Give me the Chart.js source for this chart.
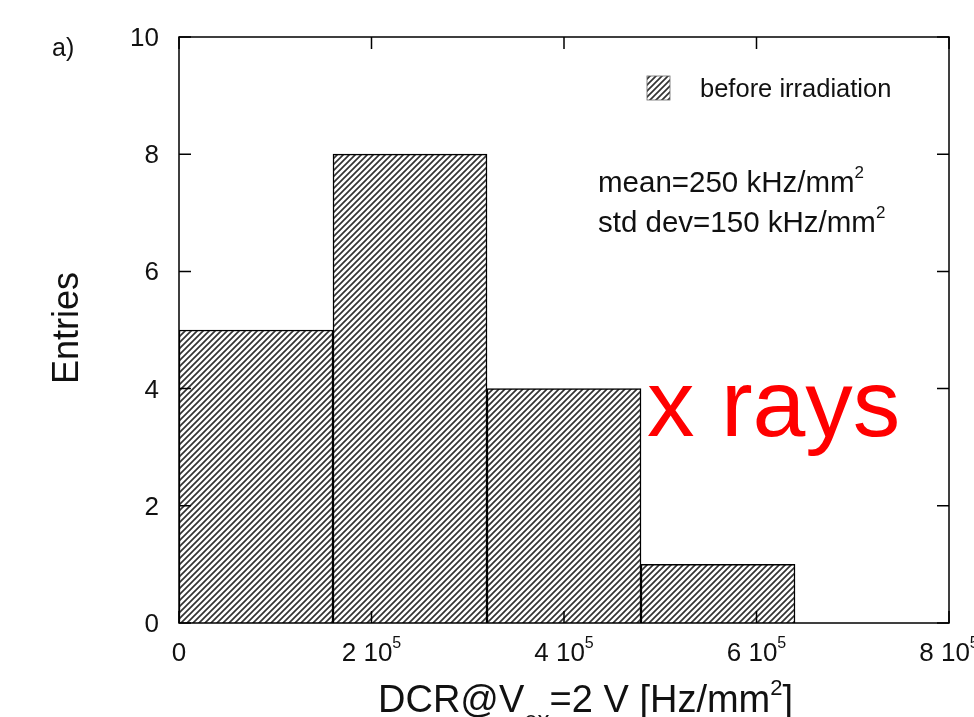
<!DOCTYPE html>
<html>
<head>
<meta charset="utf-8">
<script src="https://cdn.jsdelivr.net/npm/chart.js@4.4.1/dist/chart.umd.min.js"></script>
<style>
  html, body { margin: 0; padding: 0; background: #fff; }
  canvas { display: block; }
</style>
</head>
<body>
<canvas id="dcr__chart" width="974" height="717"></canvas>
<script>
// histogram: bin edges in Hz/mm2, counts per bin
const binEdges = [0, 160000, 320000, 480000, 640000];
const entries = [5, 8, 4, 1];
const xTickValues = [0, 200000, 400000, 600000, 800000];
const yTickValues = [0, 2, 4, 6, 8, 10];
const seriesLabel = "before irradiation";
const statLines = ["mean=250 kHz/mm", "std dev=150 kHz/mm"];

const FONT = "'Liberation Sans', Helvetica, Arial, sans-serif";
const INK = "#111";

function makeHatch(ctx) {
  const tile = document.createElement("canvas");
  tile.width = 6;
  tile.height = 6;
  const t = tile.getContext("2d");
  t.fillStyle = "#fff";
  t.fillRect(0, 0, 6, 6);
  t.strokeStyle = "#333";
  t.lineWidth = 1.7;
  t.beginPath();
  t.moveTo(-2, 8); t.lineTo(8, -2);
  t.moveTo(-3, 3); t.lineTo(3, -3);
  t.moveTo(3, 9); t.lineTo(9, 3);
  t.stroke();
  return ctx.createPattern(tile, "repeat");
}

// draws a run of text pieces, each with its own size and baseline shift
function richText(ctx, parts, x, y, align) {
  let w = 0;
  parts.forEach((p) => {
    ctx.font = p.size + "px " + FONT;
    p.w = ctx.measureText(p.t).width;
    w += p.w;
  });
  let cx = align === "center" ? x - w / 2 : align === "right" ? x - w : x;
  ctx.textAlign = "left";
  ctx.textBaseline = "alphabetic";
  parts.forEach((p) => {
    ctx.font = p.size + "px " + FONT;
    ctx.fillText(p.t, cx, y + (p.dy || 0));
    cx += p.w;
  });
}

function xTickParts(v) {
  if (v === 0) return [{ t: "0", size: 26 }];
  const exp = Math.floor(Math.log10(v));
  const mant = Math.round(v / Math.pow(10, exp));
  return [
    { t: mant + " 10", size: 26 },
    { t: String(exp), size: 16, dy: -13 },
  ];
}

const gnuplotFrame = {
  id: "gnuplotFrame",
  afterDatasetsDraw(chart) {
    const { ctx, chartArea: a, scales } = chart;
    const x = scales.x, y = scales.y;
    const tick = 12;
    ctx.save();
    ctx.strokeStyle = "#000";
    ctx.lineWidth = 1.5;
    ctx.strokeRect(a.left, a.top, a.right - a.left, a.bottom - a.top);

    ctx.beginPath();
    y.ticks.forEach((t) => {
      const py = y.getPixelForValue(t.value);
      ctx.moveTo(a.left, py); ctx.lineTo(a.left + tick, py);
      ctx.moveTo(a.right, py); ctx.lineTo(a.right - tick, py);
    });
    x.ticks.forEach((t) => {
      const px = x.getPixelForValue(t.value);
      ctx.moveTo(px, a.bottom); ctx.lineTo(px, a.bottom - tick);
      ctx.moveTo(px, a.top); ctx.lineTo(px, a.top + tick);
    });
    ctx.stroke();

    ctx.fillStyle = INK;
    y.ticks.forEach((t) => {
      const py = y.getPixelForValue(t.value);
      richText(ctx, [{ t: String(t.value), size: 26 }], a.left - 20, py + 9, "right");
    });
    x.ticks.forEach((t) => {
      const px = x.getPixelForValue(t.value);
      richText(ctx, xTickParts(t.value), px, 661, "center");
    });

    // key
    ctx.fillStyle = makeHatch(ctx);
    ctx.fillRect(647, 76, 23, 24);
    ctx.strokeStyle = "#666";
    ctx.lineWidth = 0.8;
    ctx.strokeRect(647, 76, 23, 24);
    ctx.fillStyle = INK;
    richText(ctx, [{ t: chart.data.datasets[0].label, size: 25.5 }], 700, 97, "left");

    statLines.forEach((s, i) => {
      richText(ctx, [{ t: s, size: 29.5 }, { t: "2", size: 17, dy: -14 }], 598, 192 + i * 40, "left");
    });

    richText(ctx, [{ t: "a)", size: 25 }], 52, 56, "left");

    ctx.save();
    ctx.translate(78, 328);
    ctx.rotate(-Math.PI / 2);
    richText(ctx, [{ t: "Entries", size: 36 }], 0, 0, "center");
    ctx.restore();

    richText(ctx, [
      { t: "DCR@V", size: 38 },
      { t: "ex", size: 24, dy: 16 },
      { t: "=2 V [Hz/mm", size: 38 },
      { t: "2", size: 22, dy: -17 },
      { t: "]", size: 38 },
    ], 378, 712, "left");
    ctx.restore();
  },
  afterDraw(chart) {
    const { ctx } = chart;
    ctx.save();
    ctx.fillStyle = "#ff0000";
    richText(ctx, [{ t: "x rays", size: 95 }], 647, 436, "left");
    ctx.restore();
  },
};

const canvas = document.querySelector("#dcr__chart");
const hatch = makeHatch(canvas.getContext("2d"));

const histData = entries.map((n, i) => ({
  x: (binEdges[i] + binEdges[i + 1]) / 2,
  y: n,
}));

new Chart(canvas, {
  type: "bar",
  data: {
    datasets: [
      {
        label: seriesLabel,
        data: histData,
        backgroundColor: hatch,
        borderColor: "#000",
        borderWidth: 1.5,
        barPercentage: 1,
        categoryPercentage: 1,
      },
    ],
  },
  options: {
    responsive: false,
    animation: false,
    events: [],
    layout: { padding: { left: 179, top: 37, right: 25, bottom: 94 } },
    plugins: {
      legend: { display: false },
      tooltip: { enabled: false },
    },
    scales: {
      x: {
        type: "linear",
        min: 0,
        max: 800000,
        offset: false,
        display: false,
        afterBuildTicks: (s) => {
          s.ticks = xTickValues.map((v) => ({ value: v }));
        },
      },
      y: {
        min: 0,
        max: 10,
        display: false,
        afterBuildTicks: (s) => {
          s.ticks = yTickValues.map((v) => ({ value: v }));
        },
      },
    },
  },
  plugins: [gnuplotFrame],
});
</script>
</body>
</html>
